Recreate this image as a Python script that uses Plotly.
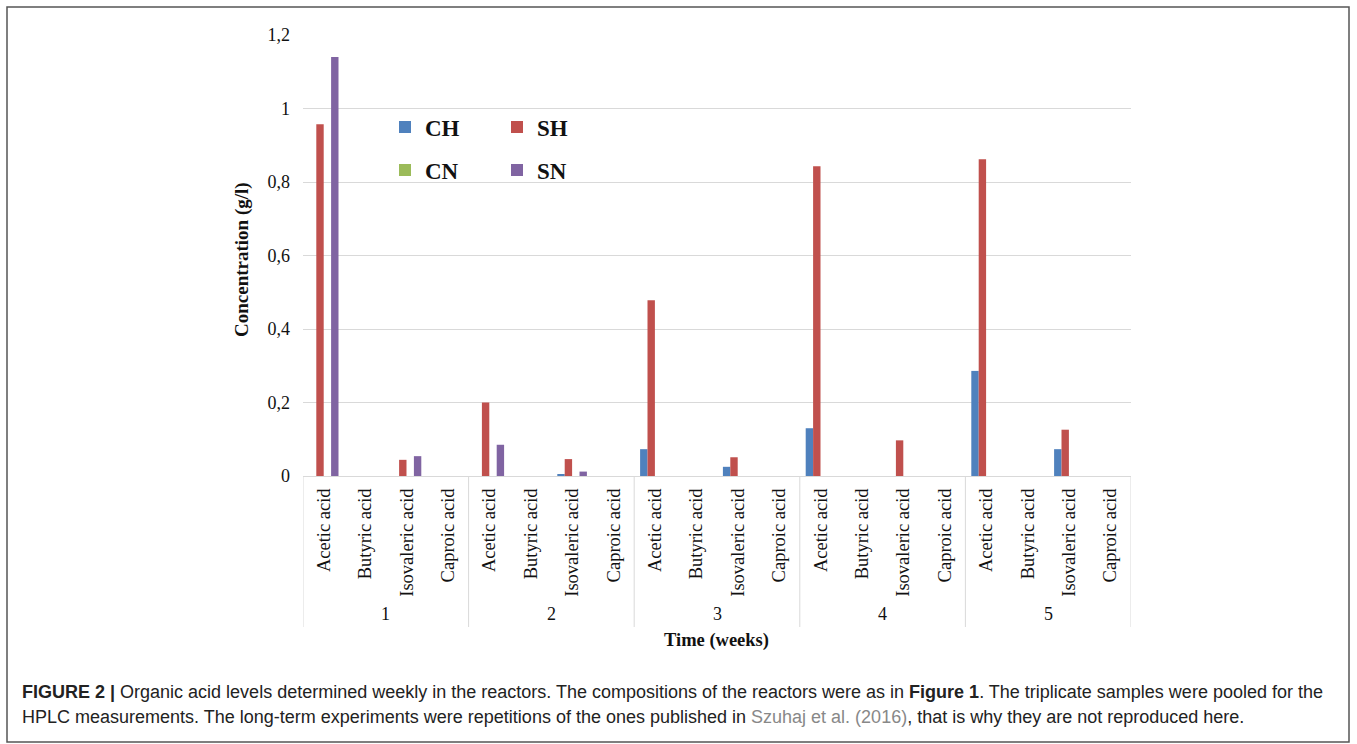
import plotly.graph_objects as go

weeks = ["1", "2", "3", "4", "5"]
acids = ["Acetic acid", "Butyric acid", "Isovaleric acid", "Caproic acid"]
series_names = ["CH", "SH", "CN", "SN"]
colors = {"CH": "#4F81BD", "SH": "#C0504D", "CN": "#9BBB59", "SN": "#8064A2"}

# values per week, order: Acetic, Butyric, Isovaleric, Caproic
CH = [0, 0, 0, 0,
      0, 0, 0.004, 0,
      0.073, 0, 0.025, 0,
      0.13, 0, 0, 0,
      0.286, 0, 0.073, 0]
SH = [0.957, 0, 0.044, 0,
      0.2, 0, 0.046, 0,
      0.478, 0, 0.051, 0,
      0.843, 0, 0.097, 0,
      0.862, 0, 0.126, 0]
CN = [0, 0, 0, 0,
      0, 0, 0, 0,
      0, 0, 0, 0,
      0, 0, 0, 0,
      0, 0, 0, 0]
SN = [1.14, 0, 0.054, 0,
      0.085, 0, 0.012, 0,
      0, 0, 0, 0,
      0, 0, 0, 0,
      0, 0, 0, 0]

y_tickvals = [0, 0.2, 0.4, 0.6, 0.8, 1.0, 1.2]
y_ticktext = ["0", "0,2", "0,4", "0,6", "0,8", "1", "1,2"]

W, H = 1357, 744
L, R, T, B = 303, 226, 35, 268
pw, ph = W - L - R, H - T - B

def px(x):
    return (x - L) / pw

def py(y):
    return (H - B - y) / ph

n_cat = len(weeks) * len(acids)
xpos = list(range(n_cat))
ticktext = [a for w in weeks for a in acids]

data = {"CH": CH, "SH": SH, "CN": CN, "SN": SN}
fig = go.Figure()
for name in series_names:
    fig.add_trace(go.Bar(
        x=xpos, y=data[name], name=name,
        marker=dict(color=colors[name], line=dict(width=0)),
        legend="legend" if name in ("CH", "SH") else "legend2",
    ))

serif = "Liberation Serif"
grid = "#d9d9d9"

shapes = []
# group dividers
for g in range(len(weeks) + 1):
    xb = g * len(acids) - 0.5
    shapes.append(dict(type="line", xref="x", yref="paper", x0=xb, x1=xb,
                       y0=0, y1=py(627), line=dict(color=grid, width=1)))
# outer frame
shapes.append(dict(type="rect", xref="paper", yref="paper",
                   x0=px(7), x1=px(1349), y0=py(742), y1=py(7),
                   line=dict(color="#555555", width=1.5), layer="below"))

annotations = []
for g, w in enumerate(weeks):
    annotations.append(dict(x=g * len(acids) + 1.5, xref="x", y=py(614), yref="paper",
                            text=w, showarrow=False, font=dict(family=serif, size=18, color="#111"),
                            xanchor="center", yanchor="middle"))
annotations.append(dict(x=px(716), y=py(640), xref="paper", yref="paper",
                        text="<b>Time (weeks)</b>", showarrow=False,
                        font=dict(family=serif, size=18.5, color="#111"),
                        xanchor="center", yanchor="middle"))
annotations.append(dict(x=px(242), y=py(260), xref="paper", yref="paper",
                        text="<b>Concentration (g/l)</b>", showarrow=False, textangle=-90,
                        font=dict(family=serif, size=19, color="#111"),
                        xanchor="center", yanchor="middle"))
cap_font = dict(family="Liberation Sans", size=18, color="#222")
annotations.append(dict(x=px(20), y=py(692), xref="paper", yref="paper",
                        text="<b>FIGURE 2 |</b> Organic acid levels determined weekly in the reactors. The compositions of the reactors were as in <b>Figure 1</b>. The triplicate samples were pooled for the",
                        showarrow=False, font=cap_font, xanchor="left", yanchor="middle", align="left"))
annotations.append(dict(x=px(20), y=py(717), xref="paper", yref="paper",
                        text="HPLC measurements. The long-term experiments were repetitions of the ones published in <span style='color:#888'>Szuhaj et al. (2016)</span>, that is why they are not reproduced here.",
                        showarrow=False, font=cap_font, xanchor="left", yanchor="middle", align="left"))

legend_common = dict(orientation="h", xanchor="left", yanchor="middle",
                     font=dict(family=serif, size=23, color="#111", weight="bold"),
                     bgcolor="rgba(0,0,0,0)", entrywidth=67, entrywidthmode="pixels",
                     itemclick=False)

fig.update_layout(
    width=W, height=H,
    margin=dict(l=L, r=R, t=T, b=B),
    paper_bgcolor="white", plot_bgcolor="white",
    barmode="group", bargap=0.285, bargroupgap=0,
    showlegend=True,
    legend=dict(x=px(385), y=py(127), **legend_common),
    legend2=dict(x=px(385), y=py(170), **legend_common),
    xaxis=dict(range=[-0.5, n_cat - 0.5], tickmode="array", tickvals=xpos, ticktext=ticktext,
               tickangle=-90, showgrid=False, zeroline=False, showline=True, linecolor=grid,
               linewidth=1, ticks="", tickfont=dict(family=serif, size=18.5, color="#111"),
               ticklabelstandoff=4),
    yaxis=dict(range=[0, 1.2], tickmode="array", tickvals=y_tickvals, ticktext=y_ticktext,
               showgrid=True, gridcolor=grid, gridwidth=1, zeroline=False, showline=False,
               ticks="", tickfont=dict(family=serif, size=18, color="#111"),
               ticklabelstandoff=12),
    shapes=shapes, annotations=annotations,
)

fig.write_html("out.html", config={"displayModeBar": False},
               post_script="document.body.style.margin='0';document.body.style.overflow='hidden';")
